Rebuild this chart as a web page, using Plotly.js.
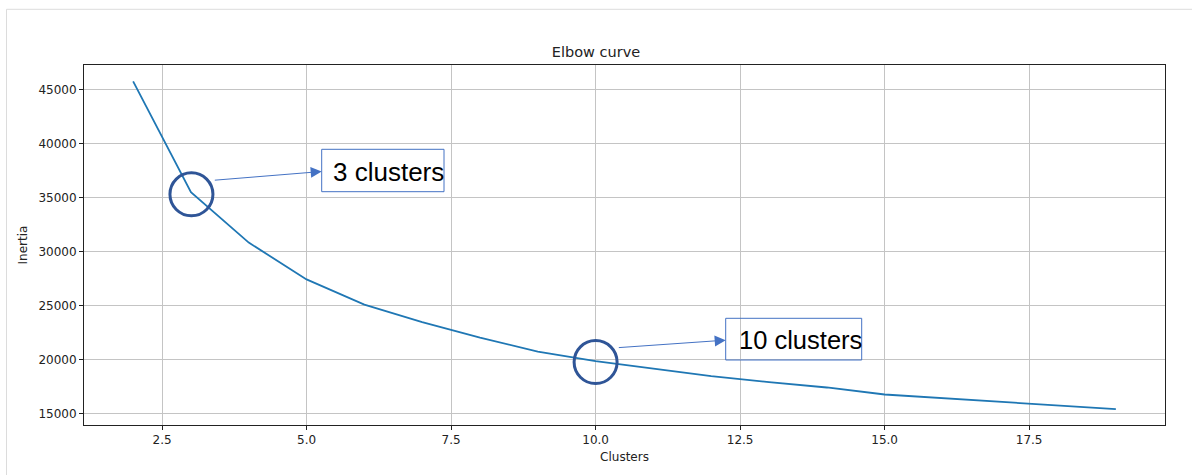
<!DOCTYPE html>
<html>
<head>
<meta charset="utf-8">
<script src="https://cdn.plot.ly/plotly-3.0.1.min.js"></script>
<style>
  html, body { margin: 0; padding: 0; background: #fff; }
  #chart { width: 1192px; height: 475px; }
</style>
</head>
<body>
<div id="chart"></div>
<script>
// ---- data ----
const clusters = [2, 3, 4, 5, 6, 7, 8, 9, 10, 11, 12, 13, 14, 15, 16, 17, 18, 19];
const inertia = [45760, 35500, 30850, 27440, 25120, 23500, 22050, 20770, 19890, 19200, 18500, 17950, 17450, 16800, 16450, 16120, 15790, 15450];
const xTicks = [2.5, 5.0, 7.5, 10.0, 12.5, 15.0, 17.5];
const yTicks = [15000, 20000, 25000, 30000, 35000, 40000, 45000];
const calloutIndex = [1, 8];           // 3 clusters, 10 clusters
const calloutLabels = ['3 clusters', '10 clusters'];

// ---- layout helpers (pixel -> paper) ----
const W = 1192, H = 475, ML = 84, MR = 27, MT = 65, MB = 50;
const PW = W - ML - MR, PH = H - MT - MB;
const px = v => (v - ML) / PW;
const py = v => (H - MB - v) / PH;

const blue = '#4472C4';
const ringColor = '#2F5597';

const shapes = [];
const annotations = [];

// page frame (notebook cell border)
shapes.push({type: 'line', xref: 'paper', yref: 'paper', x0: px(6.5), x1: px(1192), y0: py(9.3), y1: py(9.3), line: {color: '#dcdcdc', width: 1}});
shapes.push({type: 'line', xref: 'paper', yref: 'paper', x0: px(6.5), x1: px(6.5), y0: py(9.3), y1: py(475), line: {color: '#dcdcdc', width: 1}});

// rings around the elbow points (slight offsets as drawn in the reference)
const ringOffsets = [[0.5, -2], [0, -1]];
calloutIndex.forEach((i, k) => {
  const [dx, dy] = ringOffsets[k];
  shapes.push({
    type: 'circle', xref: 'x', yref: 'y',
    xsizemode: 'pixel', ysizemode: 'pixel',
    xanchor: clusters[i], yanchor: inertia[i],
    x0: -21.5 + dx, x1: 21.5 + dx, y0: -21.5 + dy, y1: 21.5 + dy,
    line: {color: ringColor, width: 3}, layer: 'above'
  });
});

// callout boxes (pixel geometry)
const boxes = [
  {x0: 321.7, x1: 444, y0: 149.3, y1: 191.7, tx: 331, ty: 171.5, size: 26, tail: [213.3, 180.3]},
  {x0: 725.7, x1: 861.7, y0: 318.3, y1: 360, tx: 737, ty: 339.5, size: 25.5, tail: [617.3, 347.7]}
];
boxes.forEach((b, k) => {
  shapes.push({type: 'rect', xref: 'paper', yref: 'paper',
    x0: px(b.x0), x1: px(b.x1), y0: py(b.y1), y1: py(b.y0),
    line: {color: blue, width: 1}, fillcolor: 'rgba(0,0,0,0)', layer: 'above'});
  annotations.push({xref: 'paper', yref: 'paper', x: px(b.tx), y: py(b.ty),
    xanchor: 'left', yanchor: 'middle', showarrow: false,
    text: calloutLabels[k],
    font: {family: 'Liberation Sans, Arial, sans-serif', size: b.size, color: '#000'}});
  const headX = b.x0, headY = (b.y0 + b.y1) / 2 + 1;
  annotations.push({xref: 'paper', yref: 'paper', x: px(headX), y: py(headY),
    ax: b.tail[0] - headX, ay: b.tail[1] - headY,
    text: '', showarrow: true, arrowhead: 2, arrowsize: 2.2, arrowwidth: 1,
    arrowcolor: blue, standoff: 0, startstandoff: 0});
});

const trace = {
  x: clusters, y: inertia, type: 'scatter', mode: 'lines',
  line: {color: '#1f77b4', width: 1.8}, hoverinfo: 'skip'
};

const axisCommon = {
  showline: true, mirror: true, linecolor: '#222', linewidth: 1,
  showgrid: true, gridcolor: '#c4c4c4', gridwidth: 1,
  zeroline: false, ticks: 'outside', ticklen: 4, tickcolor: '#222', tickwidth: 1,
  tickfont: {family: 'DejaVu Sans, sans-serif', size: 12, color: '#222'}
};

const layout = {
  width: W, height: H,
  margin: {l: ML, r: MR, t: MT, b: MB, pad: 0},
  paper_bgcolor: '#fff', plot_bgcolor: '#fff',
  showlegend: false,
  title: {text: 'Elbow curve', x: px(624.5), xanchor: 'center', y: 1 - 52 / H, yanchor: 'middle',
    font: {family: 'DejaVu Sans, sans-serif', size: 14.5, color: '#222'}},
  xaxis: Object.assign({}, axisCommon, {
    range: [1.15, 19.85], tickvals: xTicks, tickformat: '.1f',
    title: {text: 'Clusters', standoff: 6, font: {family: 'DejaVu Sans, sans-serif', size: 12, color: '#222'}}
  }),
  yaxis: Object.assign({}, axisCommon, {
    range: [13980, 47270], tickvals: yTicks, tickformat: 'd',
    title: {text: 'Inertia', standoff: 8, font: {family: 'DejaVu Sans, sans-serif', size: 12, color: '#222'}}
  }),
  shapes: shapes,
  annotations: annotations
};

Plotly.newPlot('chart', [trace], layout, {displayModeBar: false, staticPlot: true});
</script>
</body>
</html>
